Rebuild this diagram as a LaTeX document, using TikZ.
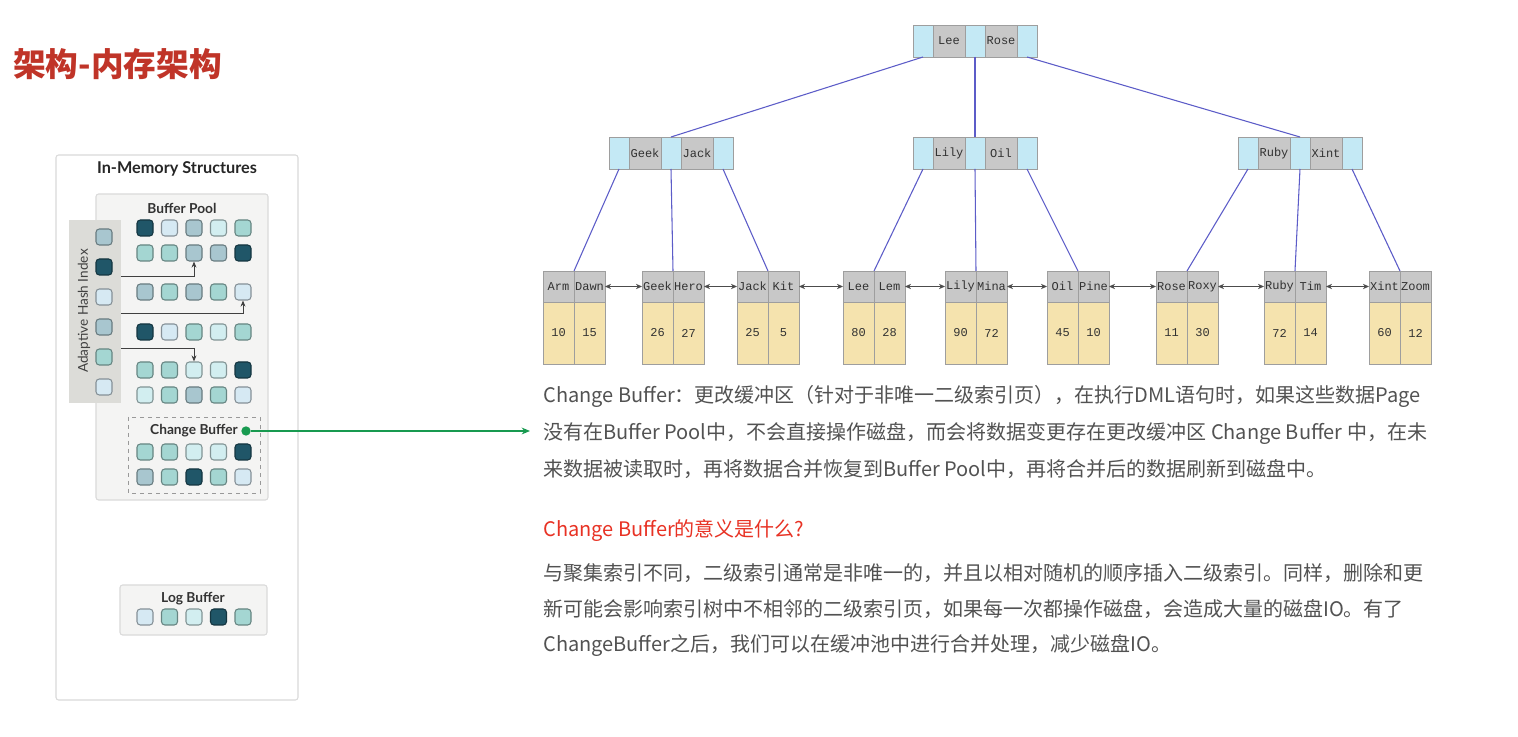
\documentclass[tikz,border=0pt]{standalone}
\usepackage{fontspec}
\setmainfont{Noto Sans CJK SC}
\newfontfamily\latofont{Lato}
\newfontfamily\treefont{Liberation Mono}
\usetikzlibrary{arrows.meta,positioning}

\definecolor{titlered}{RGB}{192,52,40}
\definecolor{headred}{RGB}{232,50,36}
\definecolor{paragray}{RGB}{82,82,82}
\definecolor{panelline}{RGB}{218,218,218}
\definecolor{poolfill}{RGB}{244,244,243}
\definecolor{ahifill}{RGB}{220,220,216}
\definecolor{sqdark}{RGB}{32,86,104}
\definecolor{sqlblue}{RGB}{214,233,243}
\definecolor{sqgblue}{RGB}{168,198,207}
\definecolor{sqlcyan}{RGB}{210,238,240}
\definecolor{sqteal}{RGB}{164,214,210}
\definecolor{cbgreen}{RGB}{24,154,80}
\definecolor{ptrfill}{RGB}{196,233,245}
\definecolor{keyfill}{RGB}{200,200,200}
\definecolor{valfill}{RGB}{245,227,174}
\definecolor{cellline}{RGB}{158,158,158}
\definecolor{treeblue}{RGB}{92,92,200}
\definecolor{keytext}{RGB}{50,50,50}

\begin{document}
\begin{tikzpicture}[x=0.75pt,y=-0.75pt]
\tikzset{
  titletext/.style={anchor=base west,inner sep=0pt,text=titlered,font=\bfseries\fontsize{24.5}{28}\selectfont},
  paratext/.style={anchor=base west,inner sep=0pt,text=paragray,font=\fontsize{15}{18}\selectfont},
  headtext/.style={paratext,text=headred},
  panelbox/.style={draw=panelline,fill=white,line width=0.8pt,rounded corners=2pt},
  poolbox/.style={draw=panelline,fill=poolfill,line width=0.8pt,rounded corners=2pt},
  ahibox/.style={draw=none,fill=ahifill},
  cbbox/.style={draw=black!40,dashed,line width=0.6pt},
  panelhead/.style={inner sep=0pt,text=black!85,font=\latofont\bfseries\fontsize{12.2}{14}\selectfont},
  poollabel/.style={inner sep=0pt,text=black!80,font=\latofont\bfseries\fontsize{10.3}{12}\selectfont},
  ahilabel/.style={inner sep=0pt,text=black!75,rotate=90,font=\latofont\fontsize{10.2}{12}\selectfont},
  sq/.style={rectangle,rounded corners=2.5pt,minimum size=12pt,inner sep=0pt,line width=0.8pt,fill=#1,draw=#1!62!black},
  hasharrow/.style={draw=black!75,line width=0.6pt,-{Stealth[length=1.6mm,width=1.3mm]}},
  cbdot/.style={circle,fill=cbgreen,minimum size=7pt,inner sep=0pt},
  cbarrow/.style={draw=cbgreen,line width=1pt,-{Stealth[length=2.2mm,width=1.8mm]}},
  ptrcell/.style={rectangle,draw=cellline,fill=ptrfill,minimum width=15pt,minimum height=24pt,inner sep=0pt,outer sep=0pt,line width=0.6pt},
  keycell/.style={ptrcell,fill=keyfill,minimum width=24pt,text=keytext,font=\treefont\fontsize{9}{10}\selectfont},
  leafkey/.style={keycell,minimum width=23.25pt,minimum height=23.25pt},
  leafval/.style={keycell,fill=valfill,minimum width=23.25pt,minimum height=46.5pt},
  treeedge/.style={draw=treeblue,line width=0.8pt},
  leaflink/.style={draw=black!70,line width=0.6pt,{Stealth[length=1.6mm,width=1.4mm]}-{Stealth[length=1.6mm,width=1.4mm]}}
}
\useasboundingbox[fill=white] (0,0) rectangle (1518,737);

% title
\node[titletext] (title) at (13,77) {架构-内存架构};

% in-memory structures panel
\draw[panelbox] (56,155) rectangle (298,700);
\node[panelhead] (imsTitle) at (177,169) {In-Memory Structures};
\draw[poolbox] (96,194) rectangle (268,500);
\node[poollabel] (bpTitle) at (182,208) {Buffer Pool};
\draw[ahibox] (69,220) rectangle (121,403);
\node[ahilabel] (ahiTitle) at (84,311) {Adaptive Hash Index};

% adaptive hash index entries
\foreach \c [count=\i] in {sqgblue,sqdark,sqlblue,sqgblue,sqteal,sqlblue}
  \node[sq=\c] (ahi_\i) at (104,{207+30*\i}) {};

% buffer pool pages
\foreach \c [count=\i] in {sqdark,sqlblue,sqgblue,sqlcyan,sqteal}
  \node[sq=\c] (bp1_\i) at ({120.5+24.5*\i},228) {};
\foreach \c [count=\i] in {sqteal,sqteal,sqgblue,sqgblue,sqdark}
  \node[sq=\c] (bp2_\i) at ({120.5+24.5*\i},253) {};
\foreach \c [count=\i] in {sqgblue,sqteal,sqgblue,sqteal,sqlblue}
  \node[sq=\c] (bp3_\i) at ({120.5+24.5*\i},292) {};
\foreach \c [count=\i] in {sqdark,sqlblue,sqteal,sqlcyan,sqteal}
  \node[sq=\c] (bp4_\i) at ({120.5+24.5*\i},332) {};
\foreach \c [count=\i] in {sqteal,sqteal,sqlcyan,sqlcyan,sqdark}
  \node[sq=\c] (bp5_\i) at ({120.5+24.5*\i},370) {};
\foreach \c [count=\i] in {sqlcyan,sqteal,sqgblue,sqteal,sqlblue}
  \node[sq=\c] (bp6_\i) at ({120.5+24.5*\i},395) {};

\coordinate (ahiOut1) at (121,276);
\coordinate (ahiOut2) at (121,313);
\coordinate (ahiOut3) at (121,348);
\draw[hasharrow] (ahiOut1) -| (bp2_3.south);
\draw[hasharrow] (ahiOut2) -| (bp3_5.south);
\draw[hasharrow] (ahiOut3) -| (bp5_3.north);

% change buffer
\draw[cbbox] (128,417) rectangle (260,493);
\node[poollabel] (cbTitle) at (194,431) {Change Buffer};
\foreach \c [count=\i] in {sqteal,sqteal,sqlcyan,sqlcyan,sqdark}
  \node[sq=\c] (cb1_\i) at ({120.5+24.5*\i},452) {};
\foreach \c [count=\i] in {sqgblue,sqteal,sqdark,sqteal,sqlblue}
  \node[sq=\c] (cb2_\i) at ({120.5+24.5*\i},477) {};
\node[cbdot] (cbDot) at (246,431) {};
\coordinate (cbTip) at (530,431);
\draw[cbarrow] (cbDot) -- (cbTip);

% log buffer
\draw[poolbox] (120,585) rectangle (267,635);
\node[poollabel] (lbTitle) at (193,599) {Log Buffer};
\foreach \c [count=\i] in {sqlblue,sqteal,sqlcyan,sqdark,sqteal}
  \node[sq=\c] (lb_\i) at ({120.5+24.5*\i},617) {};

% b+ tree root
\node[ptrcell,anchor=north west] (r_p1) at (913,25) {};
\node[keycell,right=0pt of r_p1] (r_k1) {Lee};
\node[ptrcell,right=0pt of r_k1] (r_p2) {};
\node[keycell,right=0pt of r_p2] (r_k2) {Rose};
\node[ptrcell,right=0pt of r_k2] (r_p3) {};

% b+ tree inner level
\node[ptrcell,anchor=north west] (g1_p1) at (609,137) {};
\node[keycell,right=0pt of g1_p1] (g1_k1) {Geek};
\node[ptrcell,right=0pt of g1_k1] (g1_p2) {};
\node[keycell,right=0pt of g1_p2] (g1_k2) {Jack};
\node[ptrcell,right=0pt of g1_k2] (g1_p3) {};

\node[ptrcell,anchor=north west] (g2_p1) at (913,137) {};
\node[keycell,right=0pt of g2_p1] (g2_k1) {Lily};
\node[ptrcell,right=0pt of g2_k1] (g2_p2) {};
\node[keycell,right=0pt of g2_p2] (g2_k2) {Oil};
\node[ptrcell,right=0pt of g2_k2] (g2_p3) {};

\node[ptrcell,anchor=north west] (g3_p1) at (1238,137) {};
\node[keycell,right=0pt of g3_p1] (g3_k1) {Ruby};
\node[ptrcell,right=0pt of g3_k1] (g3_p2) {};
\node[keycell,right=0pt of g3_p2] (g3_k2) {Xint};
\node[ptrcell,right=0pt of g3_k2] (g3_p3) {};

% b+ tree leaves
\foreach \lx/\ka/\kb/\va/\vb [count=\i] in {543/Arm/Dawn/10/15,642/Geek/Hero/26/27,737/Jack/Kit/25/5,
    843/Lee/Lem/80/28,945/Lily/Mina/90/72,1047/Oil/Pine/45/10,1156/Rose/Roxy/11/30,1264/Ruby/Tim/72/14,1369/Xint/Zoom/60/12}{
  \node[leafkey,anchor=north west] (l\i_k1) at (\lx,271) {\ka};
  \node[leafkey,right=0pt of l\i_k1] (l\i_k2) {\kb};
  \node[leafval,below=0pt of l\i_k1] (l\i_v1) {\va};
  \node[leafval,below=0pt of l\i_k2] (l\i_v2) {\vb};
}
\foreach \i [evaluate=\i as \j using int(\i+1)] in {1,...,8}
  \draw[leaflink] (l\i_k2.east) -- (l\j_k1.west);

\draw[treeedge] (r_p1.south) -- (g1_p2.north);
\draw[treeedge] (r_p2.south) -- (g2_p2.north);
\draw[treeedge] (r_p3.south) -- (g3_p2.north);
\draw[treeedge] (g1_p1.south) -- (l1_k1.north east);
\draw[treeedge] (g1_p2.south) -- (l2_k1.north east);
\draw[treeedge] (g1_p3.south) -- (l3_k1.north east);
\draw[treeedge] (g2_p1.south) -- (l4_k1.north east);
\draw[treeedge] (g2_p2.south) -- (l5_k1.north east);
\draw[treeedge] (g2_p3.south) -- (l6_k1.north east);
\draw[treeedge] (g3_p1.south) -- (l7_k1.north east);
\draw[treeedge] (g3_p2.south) -- (l8_k1.north east);
\draw[treeedge] (g3_p3.south) -- (l9_k1.north east);

% explanation text
\node[paratext] (p1_l1) at (543,402.5) {Change Buffer：更改缓冲区（针对于非唯一二级索引页），在执行DML语句时，如果这些数据Page};
\node[paratext] (p1_l2) at (543,439.5) {没有在Buffer Pool中，不会直接操作磁盘，而会将数据变更存在更改缓冲区 Change Buffer 中，在未};
\node[paratext] (p1_l3) at (543,476.5) {来数据被读取时，再将数据合并恢复到Buffer Pool中，再将合并后的数据刷新到磁盘中。};
\node[headtext] (p2_head) at (543,536.5) {Change Buffer的意义是什么?};
\node[paratext] (p2_l1) at (543,580.5) {与聚集索引不同，二级索引通常是非唯一的，并且以相对随机的顺序插入二级索引。同样，删除和更};
\node[paratext] (p2_l2) at (543,616.5) {新可能会影响索引树中不相邻的二级索引页，如果每一次都操作磁盘，会造成大量的磁盘IO。有了};
\node[paratext] (p2_l3) at (543,651.5) {ChangeBuffer之后，我们可以在缓冲池中进行合并处理，减少磁盘IO。};
\end{tikzpicture}
\end{document}
